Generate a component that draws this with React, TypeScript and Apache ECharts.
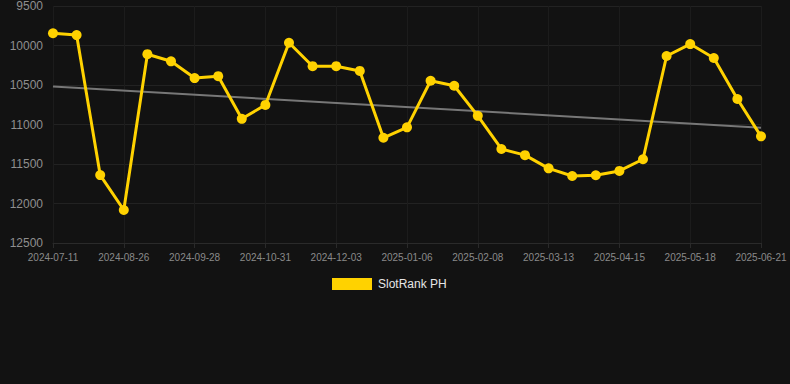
import React, { useEffect, useRef } from "react";
import * as echarts from "echarts";

const dates = [
  "2024-07-11", "2024-07-26", "2024-08-10", "2024-08-26", "2024-09-06", "2024-09-17",
  "2024-09-28", "2024-10-09", "2024-10-20", "2024-10-31", "2024-11-11", "2024-11-22",
  "2024-12-03", "2024-12-14", "2024-12-25", "2025-01-06", "2025-01-17", "2025-01-28",
  "2025-02-08", "2025-02-19", "2025-03-02", "2025-03-13", "2025-03-24", "2025-04-04",
  "2025-04-15", "2025-04-26", "2025-05-07", "2025-05-18", "2025-05-29", "2025-06-10",
  "2025-06-21",
];

const rankValues = [
  9845, 9868, 11640, 12082, 10110, 10200,
  10412, 10388, 10928, 10752, 9965, 10262,
  10262, 10322, 11168, 11036, 10446, 10510,
  10890, 11310, 11388, 11555, 11652, 11642,
  11588, 11440, 10133, 9982, 10158, 10677,
  11150,
];

const trendStart = 10518;
const trendEnd = 11040;

const yMin = 9500;
const yMax = 12500;
const yStep = 500;

const seriesName = "SlotRank PH";

export default function App() {
  const ref = useRef<HTMLDivElement>(null);

  useEffect(() => {
    if (!ref.current) return;
    const chart = echarts.init(ref.current, undefined, { renderer: "svg" });
    const trendData = dates.map((_, i) =>
      i === 0 ? trendStart : i === dates.length - 1 ? trendEnd : null
    );
    const font = "'Liberation Sans', Arial, sans-serif";
    chart.setOption({
      animation: false,
      backgroundColor: "#121212",
      textStyle: { fontFamily: font },
      grid: { left: 53, right: 29, top: 6, bottom: 141, containLabel: false },
      legend: {
        data: [seriesName],
        left: 327,
        top: 273,
        itemWidth: 40,
        itemHeight: 12,
        itemGap: 10,
        icon: "rect",
        textStyle: { color: "#e6e6e6", fontSize: 12, fontFamily: font, padding: [0, 0, 0, 1] },
      },
      xAxis: {
        type: "category",
        data: dates,
        boundaryGap: false,
        axisLine: { show: true, lineStyle: { color: "#2a2a2a" } },
        axisTick: { show: true, interval: 2, lineStyle: { color: "#2a2a2a" } },
        axisLabel: { interval: 2, color: "#8a8a8a", fontSize: 10, margin: 9, fontFamily: font },
        splitLine: { show: true, interval: 2, lineStyle: { color: "#1c1c1c" } },
      },
      yAxis: {
        type: "value",
        inverse: true,
        min: yMin,
        max: yMax,
        interval: yStep,
        axisLine: { show: false },
        axisTick: { show: false },
        axisLabel: {
          color: "#8f8f8f",
          fontSize: 12,
          margin: 10,
          fontFamily: font,
          formatter: (v: number) => String(v),
        },
        splitLine: { show: true, lineStyle: { color: "#222222" } },
      },
      series: [
        {
          name: "trend",
          type: "line",
          data: trendData,
          connectNulls: true,
          showSymbol: false,
          symbol: "none",
          silent: true,
          lineStyle: { color: "#777777", width: 2 },
          z: 1,
        },
        {
          name: seriesName,
          type: "line",
          data: rankValues,
          symbol: "circle",
          symbolSize: 10,
          showAllSymbol: true,
          itemStyle: { color: "#FFD200" },
          lineStyle: { color: "#FFD200", width: 3 },
          z: 2,
        },
      ],
    });
    return () => chart.dispose();
  }, []);

  return (
    <div
      ref={ref}
      style={{ position: "fixed", left: 0, top: 0, width: 790, height: 384 }}
    />
  );
}
